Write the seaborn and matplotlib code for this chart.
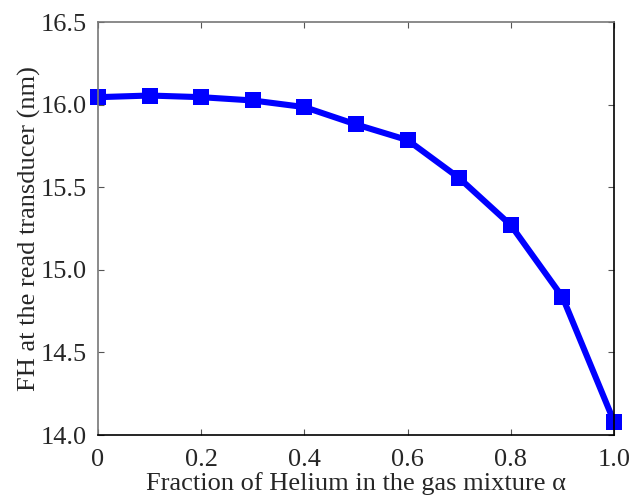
import matplotlib
matplotlib.use("Agg")
import matplotlib.pyplot as plt
import seaborn as sns
import pandas as pd

# helium fraction vs fly height at read transducer
helium_frac = [0.0, 0.1, 0.2, 0.3, 0.4, 0.5, 0.6, 0.7, 0.8, 0.9, 1.0]
fly_height = [16.045, 16.055, 16.045, 16.025, 15.985, 15.88, 15.785, 15.555, 15.27, 14.835, 14.08]

df = pd.DataFrame({"alpha": helium_frac, "fh": fly_height})

sns.set_style("white")
plt.rcParams["font.family"] = ["Liberation Serif", "DejaVu Serif"]

fig = plt.figure(figsize=(6.34, 4.98), dpi=100)
ax = fig.add_axes([0.1546, 0.1265, 0.814, 0.8293])

sns.lineplot(data=df, x="alpha", y="fh", ax=ax, color="#0000ff", linewidth=4.4,
             marker="s", markersize=12, markeredgewidth=0, markerfacecolor="#0000ff",
             clip_on=False)

ax.set_xlim(0, 1)
ax.set_ylim(14.0, 16.5)
ax.set_xticks([0, 0.2, 0.4, 0.6, 0.8, 1.0])
ax.set_xticklabels(["0", "0.2", "0.4", "0.6", "0.8", "1.0"])
ax.set_yticks([14.0, 14.5, 15.0, 15.5, 16.0, 16.5])
ax.set_yticklabels(["14.0", "14.5", "15.0", "15.5", "16.0", "16.5"])

ax.tick_params(axis="both", which="both", direction="in", labelsize=19, length=4,
               left=True, top=True, bottom=True, right=True, labelright=False,
               labeltop=False, color="#555555")
ax.tick_params(axis="y", pad=8)
ax.tick_params(axis="x", pad=10)
ax.spines["left"].set_color("#777777")
ax.spines["top"].set_color("#777777")
ax.spines["bottom"].set_color("black")
ax.spines["right"].set_color("black")
for s in ax.spines.values():
    s.set_linewidth(1.2)

ax.set_xlabel("Fraction of Helium in the gas mixture α", fontsize=19, labelpad=1)
ax.set_ylabel("FH at the read transducer (nm)", fontsize=19, labelpad=0)

fig.savefig("out.png", dpi=100)
